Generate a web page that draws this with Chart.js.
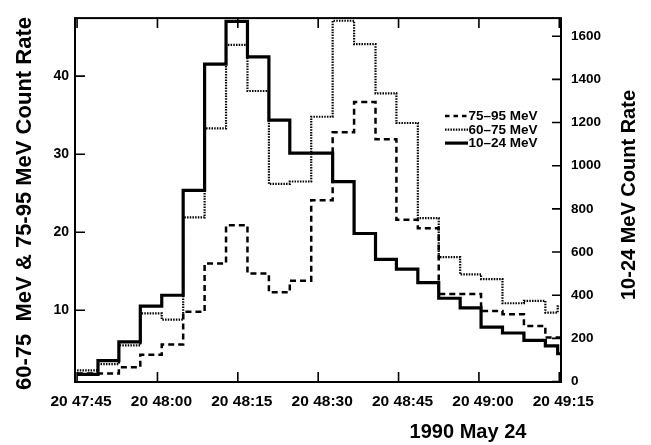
<!DOCTYPE html>
<html><head><meta charset="utf-8">
<script src="https://cdn.jsdelivr.net/npm/chart.js@4.4.1/dist/chart.umd.min.js"></script>
<style>html,body{margin:0;padding:0;background:#fff;}canvas{display:block;}</style>
</head><body>
<canvas id="c" width="651" height="445"></canvas>
<script>
// seconds after 20:47:45 UT at which each 4-s accumulation bin starts
const binStartSec = [0.0, 3.9, 7.8, 11.8, 15.8, 19.8, 23.8, 27.8, 31.8, 35.8, 39.7, 43.7, 47.7, 51.7, 55.7, 59.6, 63.6, 67.5, 71.5, 75.4, 79.4, 83.4, 87.4, 89.7];
const lastBinEndSec = 93.6;
// right axis (10-24 MeV count rate)
const rate10to24 = [33, 97, 184, 350, 400, 886, 1471, 1669, 1504, 1211, 1058, 1058, 926, 686, 566, 521, 458, 386, 341, 252, 225, 191, 165, 129];
// left axis
const rate60to75 = [2.3, 3.1, 5.5, 9.6, 8.8, 21.9, 33.3, 44.0, 38.1, 26.2, 26.5, 34.8, 47.1, 44.1, 37.8, 34.0, 21.8, 16.8, 14.6, 14.0, 10.9, 11.2, 9.7, 10.5];
const rate75to95 = [1.9, 1.9, 2.7, 4.3, 5.6, 9.8, 16.0, 20.9, 14.7, 12.3, 13.8, 24.1, 32.8, 36.7, 31.9, 21.6, 20.5, 12.1, 12.1, 9.9, 9.5, 8.0, 6.5, 6.5];
const xTickSec = [0, 15, 30, 45, 60, 75, 90];
const xTickLabels = ['20 47:45', '20 48:00', '20 48:15', '20 48:30', '20 48:45', '20 49:00', '20 49:15'];
const leftTicks = [10, 20, 30, 40];
const rightTicks = [0, 200, 400, 600, 800, 1000, 1200, 1400, 1600];
const seriesNames = ['75–95 MeV', '60–75 MeV', '10–24 MeV'];
const leftTitle = '60-75  MeV & 75-95 MeV Count Rate';
const rightTitle = '10-24 MeV Count Rate';
const dateTitle = '1990 May 24';

const FONT = '"Liberation Sans", Arial, Helvetica, sans-serif';
Chart.defaults.font.family = FONT;
Chart.defaults.font.weight = 'bold';
Chart.defaults.color = '#000';

function steps(vals) {
  const pts = binStartSec.map((t, i) => ({x: t, y: vals[i]}));
  pts.push({x: lastBinEndSec, y: vals[vals.length - 1]});
  return pts;
}

const styles = [
  {dash: [6, 4], width: 2.5},
  {dash: [1.5, 1.2], width: 2.2},
  {dash: [], width: 3.2}
];

const decor = {
  id: 'decor',
  afterDraw(chart) {
    const {ctx, chartArea: a, scales} = chart;
    ctx.save();
    ctx.strokeStyle = '#000';
    ctx.fillStyle = '#000';
    ctx.setLineDash([]);
    ctx.lineWidth = 2;
    ctx.strokeRect(a.left, a.top, a.right - a.left, a.bottom - a.top);
    ctx.lineWidth = 1.6;
    ctx.beginPath();
    xTickSec.forEach(v => {
      const x = scales.x.getPixelForValue(v);
      ctx.moveTo(x, a.bottom); ctx.lineTo(x, a.bottom - 10);
      ctx.moveTo(x, a.top); ctx.lineTo(x, a.top + 10);
    });
    leftTicks.forEach(v => {
      const y = scales.y.getPixelForValue(v);
      ctx.moveTo(a.left, y); ctx.lineTo(a.left + 10, y);
    });
    rightTicks.forEach(v => {
      const y = scales.y2.getPixelForValue(v);
      ctx.moveTo(a.right, y); ctx.lineTo(a.right - 9, y);
    });
    ctx.stroke();

    // legend
    const lx0 = a.right - 116, lx1 = a.right - 93, tx = a.right - 92.5;
    const ly = [a.top + 98, a.top + 111.5, a.top + 125];
    ctx.font = 'bold 13.5px ' + FONT;
    ctx.textAlign = 'left';
    ctx.textBaseline = 'middle';
    const legendDash = [[4.5, 4], [1.5, 1.2], []];
    seriesNames.forEach((n, i) => {
      ctx.beginPath();
      ctx.setLineDash(legendDash[i]);
      ctx.lineWidth = styles[i].width;
      ctx.moveTo(lx0, ly[i]); ctx.lineTo(lx1, ly[i]);
      ctx.stroke();
      ctx.fillText(n, tx, ly[i] + 0.5);
    });
    ctx.setLineDash([]);

    // axis titles
    ctx.textAlign = 'center';
    ctx.textBaseline = 'middle';
    ctx.save();
    ctx.translate(25, 203.5);
    ctx.rotate(-Math.PI / 2);
    ctx.font = 'bold 22px ' + FONT;
    ctx.fillText(leftTitle, 0, 0);
    ctx.restore();
    ctx.save();
    ctx.translate(629, 195);
    ctx.rotate(-Math.PI / 2);
    ctx.font = 'bold 20px ' + FONT;
    ctx.fillText(rightTitle, 0, 0);
    ctx.restore();
    ctx.font = 'bold 20px ' + FONT;
    ctx.fillText(dateTitle, 468, 432);
    ctx.restore();
  }
};

new Chart(document.getElementById('c'), {
  type: 'line',
  data: {
    datasets: [
      {label: seriesNames[0], data: steps(rate75to95), yAxisID: 'y'},
      {label: seriesNames[1], data: steps(rate60to75), yAxisID: 'y'},
      {label: seriesNames[2], data: steps(rate10to24), yAxisID: 'y2'}
    ].map((d, i) => Object.assign(d, {
      stepped: true, borderColor: '#000', backgroundColor: '#000',
      borderWidth: styles[i].width, borderDash: styles[i].dash,
      pointRadius: 0, fill: false, borderCapStyle: 'butt', borderJoinStyle: 'miter'
    }))
  },
  options: {
    responsive: false,
    animation: false,
    devicePixelRatio: 1,
    layout: {padding: {top: 8, left: 0, right: 0, bottom: 0}},
    plugins: {legend: {display: false}, tooltip: {enabled: false}},
    scales: {
      x: {
        type: 'linear', position: 'bottom', min: -0.39, max: 90.32,
        grid: {display: false, drawTicks: false}, border: {display: false},
        afterBuildTicks: s => { s.ticks = xTickSec.map(v => ({value: v})); },
        afterFit: s => { s.height = 63; },
        ticks: {
          font: {size: 15.5, weight: 'bold'}, padding: 10, maxRotation: 0, autoSkip: false, labelOffset: 4,
          callback: v => xTickLabels[xTickSec.indexOf(v)]
        }
      },
      y: {
        type: 'linear', position: 'left', min: 0.81, max: 47.44,
        grid: {display: false, drawTicks: false}, border: {display: false},
        afterBuildTicks: s => { s.ticks = leftTicks.map(v => ({value: v})); },
        afterFit: s => { s.width = 75; },
        ticks: {font: {size: 14, weight: 'bold'}, padding: 6, callback: v => String(v)}
      },
      y2: {
        type: 'linear', position: 'right', min: -2, max: 1684,
        grid: {display: false, drawTicks: false}, border: {display: false},
        afterBuildTicks: s => { s.ticks = rightTicks.map(v => ({value: v})); },
        afterFit: s => { s.width = 90; },
        ticks: {font: {size: 13.5, weight: 'bold'}, padding: 10, callback: v => String(v)}
      }
    }
  },
  plugins: [decor]
});
</script>
</body></html>
